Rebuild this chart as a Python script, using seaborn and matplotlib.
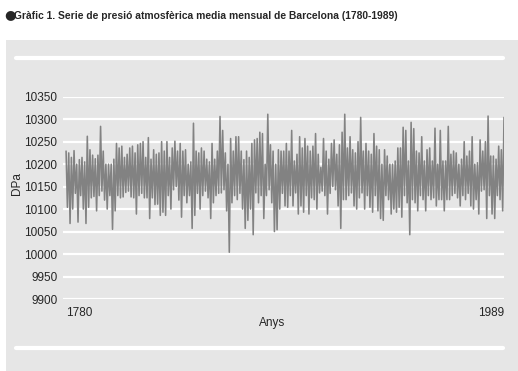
import numpy as np
import pandas as pd
import matplotlib
matplotlib.use('Agg')
import matplotlib.pyplot as plt
from matplotlib.patches import Rectangle
from matplotlib.lines import Line2D
import seaborn as sns

seg_1780s = [10229, 10104, 10225, 10068, 10215, 10100, 10230, 10135, 10200, 10071,
             10210, 10130, 10215, 10100, 10205, 10068, 10262, 10104, 10232, 10125,
             10220, 10128, 10212, 10096, 10220, 10130, 10284, 10140, 10229, 10120,
             10200, 10100, 10200, 10130, 10200, 10055, 10211, 10096, 10246, 10130,
             10236, 10125, 10240, 10127, 10215, 10137, 10222, 10140, 10236, 10127,
             10240, 10125, 10225, 10089, 10243, 10130, 10246, 10135, 10250, 10125,
             10215, 10125, 10259, 10079, 10211, 10125, 10232, 10110, 10222, 10111,
             10225, 10086, 10250, 10093]
seg_1830s = [10229, 10086, 10250, 10130, 10215, 10100, 10236, 10143, 10251, 10150,
             10229, 10120, 10246, 10082, 10229, 10130, 10232, 10114, 10200, 10130,
             10205, 10057, 10291, 10086, 10229, 10135, 10225, 10100, 10236, 10130,
             10229, 10140, 10211, 10125, 10205, 10079, 10246, 10114, 10211, 10130,
             10229, 10135, 10306, 10136, 10275, 10143, 10225, 10096, 10200, 10004,
             10257, 10114, 10229, 10130, 10261, 10121, 10261, 10135, 10229, 10100,
             10210, 10057, 10229, 10075, 10215, 10100, 10246, 10043, 10254, 10136,
             10257, 10114, 10271, 10130, 10268, 10079, 10200, 10130, 10311, 10143,
             10243, 10114, 10229, 10050]
seg_1890s = [10200, 10054, 10232, 10100, 10229, 10135, 10229, 10107, 10246, 10104,
             10229, 10130, 10275, 10107, 10207, 10136, 10222, 10089, 10261, 10107,
             10236, 10093, 10257, 10130, 10240, 10089, 10229, 10125, 10240, 10121,
             10268, 10100, 10222, 10136, 10193, 10140, 10257, 10130, 10229, 10089,
             10211, 10135, 10246, 10150, 10254, 10143, 10222, 10107, 10243, 10057,
             10271, 10121, 10311, 10121, 10236, 10130, 10261, 10136, 10232, 10107,
             10225, 10100, 10250, 10125, 10304, 10136, 10229, 10100, 10246, 10130,
             10229, 10104, 10222, 10093, 10268, 10130, 10240, 10096, 10232, 10079,
             10200, 10075, 10232, 10130, 10218, 10121, 10200, 10089]
seg_1940s = [10200, 10100, 10207, 10093, 10236, 10104, 10236, 10082, 10282, 10130,
             10275, 10114, 10207, 10043, 10293, 10121, 10279, 10114, 10229, 10096,
             10225, 10130, 10261, 10121, 10207, 10096, 10232, 10130, 10236, 10121,
             10207, 10125, 10280, 10107, 10200, 10121, 10275, 10121, 10207, 10096,
             10207, 10121, 10284, 10121, 10222, 10130, 10229, 10135, 10225, 10125,
             10200, 10107, 10211, 10130, 10250, 10121, 10218, 10135, 10229, 10107,
             10261, 10100, 10200, 10121, 10203, 10089, 10254, 10140, 10229, 10143,
             10250, 10079, 10307, 10130, 10218, 10089, 10218, 10079, 10211, 10130,
             10240, 10121, 10232, 10096, 10304]

pressure = seg_1780s + seg_1830s + seg_1890s + seg_1940s
y_ticks = [9900, 9950, 10000, 10050, 10100, 10150, 10200, 10250, 10300, 10350]
x_labels = ['1780', '1989']

df = pd.DataFrame({'idx': np.arange(len(pressure)), 'DPa': pressure})

bg = '#e6e6e6'
W, H = 518, 371

sns.set_theme(style='white')
plt.rcParams['font.family'] = ['Liberation Sans', 'DejaVu Sans']

fig = plt.figure(figsize=(W / 100, H / 100), dpi=100)
fig.patch.set_facecolor('white')

# grey panel behind the chart, with the two white rules
fig.add_artist(Rectangle((6 / W, 0), 1, 1 - 40 / H, transform=fig.transFigure,
                         facecolor=bg, edgecolor='none', zorder=0))
for yy in [58, 348]:
    fig.add_artist(Line2D([16 / W, 503 / W], [1 - yy / H, 1 - yy / H],
                          transform=fig.transFigure, color='white', lw=3, zorder=1))

# title with its bullet
fig.text(4 / W, 1 - 15 / H, '\u25cf', fontsize=9.5, va='center', ha='left',
         family=['DejaVu Sans'])
fig.text(14 / W, 1 - 16 / H,
         'Gràfic 1. Serie de presió atmosfèrica media mensual de Barcelona (1780-1989)',
         fontsize=7.35, fontweight='bold', va='center', ha='left')

ax = fig.add_axes([63 / W, 1 - 299 / H, 441 / W, (299 - 96.7) / H])
ax.set_facecolor(bg)
ax.set_zorder(2)
for yt in y_ticks:
    ax.axhline(yt, color='white', lw=1.6, zorder=0)

sns.lineplot(data=df, x='idx', y='DPa', ax=ax, color='#828282', lw=1.15, zorder=2)

n = len(pressure)
ax.set_xlim(-0.007 * n, n - 1)
ax.set_ylim(9900, 10350)
ax.set_yticks(y_ticks)
ax.set_yticklabels([str(v) for v in y_ticks], fontsize=8.5)
ax.set_xticks([0, n - 1])
ax.set_xticklabels(x_labels, fontsize=8.5)
ax.get_xticklabels()[0].set_ha('left')
ax.get_xticklabels()[1].set_ha('right')
ax.tick_params(axis='both', length=0, pad=4)
ax.tick_params(axis='x', pad=6)
for s in ax.spines.values():
    s.set_visible(False)
ax.grid(False)

ax.set_xlabel('Anys', fontsize=8.5, labelpad=1)
ax.xaxis.set_label_coords(0.475, -0.09)
ax.set_ylabel('DPa', fontsize=8.5)
ax.yaxis.set_label_coords(-0.09, 0.57)

fig.savefig('out.png', dpi=100)
plt.close(fig)
